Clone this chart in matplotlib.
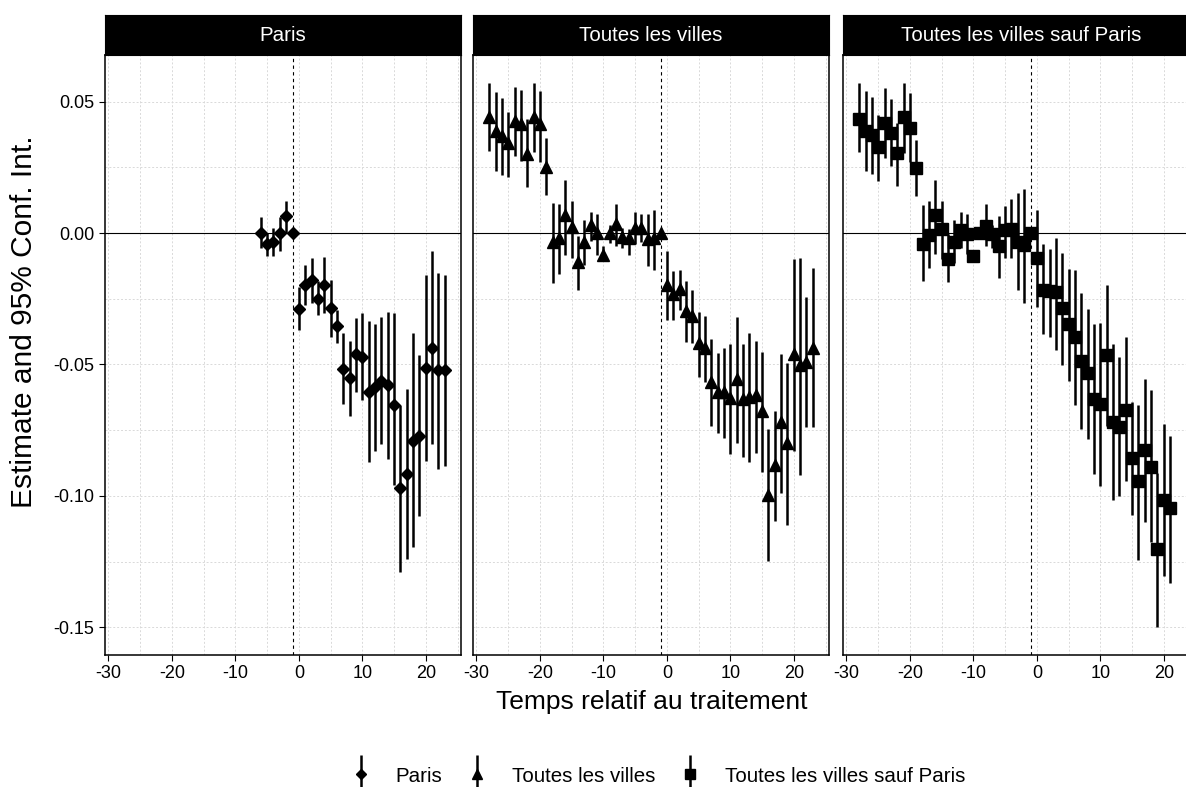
import matplotlib
matplotlib.use("Agg")
import matplotlib.pyplot as plt
from matplotlib.ticker import MultipleLocator
from matplotlib.container import ErrorbarContainer
from matplotlib.legend_handler import HandlerErrorbar
from matplotlib.lines import Line2D

plt.rcParams['font.family'] = ['Liberation Sans', 'DejaVu Sans']

# Paris
t_paris = list(range(-6, 24))
est_paris = [0.000, -0.0043, -0.0034, 0.000, 0.0065, 0.000, -0.0289, -0.0197, -0.0178, -0.025,
             -0.0197, -0.0286, -0.0354, -0.0516, -0.0552, -0.0462, -0.0471, -0.0605, -0.0586, -0.0564,
             -0.0577, -0.0654, -0.0969, -0.0918, -0.079, -0.0771, -0.0513, -0.0436, -0.0522, -0.052]
hi_paris = [0.0059, 0.000, 0.002, 0.006, 0.0123, 0.0, -0.0207, -0.012, -0.0095, -0.0184,
            -0.0092, -0.0177, -0.0291, -0.0382, -0.0411, -0.0322, -0.0305, -0.0335, -0.0347, -0.0318,
            -0.0301, -0.0304, -0.0656, -0.0593, -0.0382, -0.0465, -0.0158, -0.0069, -0.0152, -0.0158]
lo_paris = [-0.0056, -0.0088, -0.0088, -0.0069, 0.0001, 0.0, -0.0368, -0.0273, -0.0267, -0.0312,
            -0.0305, -0.0395, -0.042, -0.065, -0.0695, -0.0605, -0.0637, -0.0871, -0.0829, -0.0803,
            -0.0858, -0.0957, -0.1289, -0.1238, -0.1193, -0.1075, -0.0868, -0.0803, -0.0897, -0.0886]

# Toutes les villes
t_all = list(range(-28, 24))
est_all = [0.0442, 0.0387, 0.0369, 0.0344, 0.0427, 0.0413, 0.0302, 0.044, 0.0413, 0.025,
           -0.0034, -0.002, 0.0069, 0.0021, -0.011, -0.0033, 0.0031, 0.0001, -0.0082, 0.000,
           0.0033, -0.0015, -0.002, 0.002, 0.002, -0.0021, -0.002, 0.0,
           -0.0197, -0.0232, -0.0212, -0.0296, -0.0315, -0.042, -0.0437, -0.0567, -0.0605, -0.0605,
           -0.0628, -0.0554, -0.0631, -0.0624, -0.0618, -0.0676, -0.0995, -0.0884, -0.072, -0.0797,
           -0.0459, -0.0503, -0.049, -0.0437]
hi_all = [0.0572, 0.0538, 0.0512, 0.0461, 0.0555, 0.0542, 0.0432, 0.057, 0.0541, 0.0363,
          0.0114, 0.011, 0.0203, 0.0123, -0.0011, 0.005, 0.0078, 0.0074, -0.005, 0.003,
          0.011, 0.002, 0.0014, 0.0078, 0.0074, 0.0072, 0.0087, 0.0,
          -0.0069, -0.0146, -0.014, -0.0184, -0.0216, -0.0299, -0.0315, -0.0404, -0.0455, -0.0439,
          -0.0423, -0.0318, -0.0423, -0.0382, -0.0411, -0.0452, -0.0747, -0.0676, -0.0462, -0.0493,
          -0.0097, -0.0094, -0.0245, -0.0135]
lo_all = [0.031, 0.0234, 0.0221, 0.0212, 0.0291, 0.0273, 0.0174, 0.0308, 0.027, 0.0146,
          -0.019, -0.0156, -0.0082, -0.0094, -0.0216, -0.0123, -0.0031, -0.0084, -0.0107, -0.0037,
          -0.005, -0.0056, -0.0082, -0.0043, -0.0035, -0.0126, -0.0139, 0.0,
          -0.0331, -0.0331, -0.0293, -0.0416, -0.042, -0.0548, -0.0567, -0.0733, -0.0761, -0.0778,
          -0.0842, -0.0797, -0.0851, -0.0871, -0.0835, -0.0909, -0.1247, -0.1097, -0.0989, -0.111,
          -0.0829, -0.0922, -0.0739, -0.0739]

# Toutes les villes sauf Paris
t_sp = list(range(-28, 22))
est_sp = [0.0435, 0.0387, 0.0372, 0.0327, 0.0419, 0.0382, 0.0304, 0.044, 0.0401, 0.0246,
          -0.004, -0.0009, 0.0068, 0.0014, -0.0097, -0.0033, 0.001, -0.0005, -0.0088, 0.0,
          0.0026, -0.0005, -0.005, 0.001, 0.0014, -0.0033, -0.0046, 0.0,
          -0.0094, -0.0216, -0.0222, -0.0225, -0.0284, -0.0347, -0.0395, -0.0488, -0.0531, -0.0633,
          -0.065, -0.0465, -0.0718, -0.0736, -0.0672, -0.0854, -0.0944, -0.0825, -0.0889, -0.1203,
          -0.1014, -0.1046]
hi_sp = [0.057, 0.0541, 0.0518, 0.0448, 0.055, 0.0508, 0.0419, 0.0572, 0.0534, 0.0355,
         0.0106, 0.0123, 0.0203, 0.0123, -0.0005, 0.0051, 0.0078, 0.0074, -0.0063, 0.0022,
         0.011, 0.003, 0.0065, 0.0103, 0.0129, 0.0154, 0.0168, 0.0,
         0.0087, -0.0043, -0.0059, -0.0018, -0.0075, -0.0137, -0.0139, -0.0229, -0.0289, -0.0346,
         -0.0344, -0.0199, -0.0424, -0.0471, -0.0395, -0.0641, -0.0653, -0.0554, -0.0599, -0.0912,
         -0.0726, -0.0771]
lo_sp = [0.0308, 0.0234, 0.0225, 0.0199, 0.0287, 0.0253, 0.018, 0.0304, 0.027, 0.0142,
         -0.0184, -0.0135, -0.0079, -0.0097, -0.0187, -0.0114, -0.0056, -0.0079, -0.0105, -0.0024,
         -0.005, -0.0056, -0.0171, -0.0094, -0.0094, -0.0216, -0.0268, 0.0,
         -0.028, -0.0386, -0.0395, -0.0446, -0.0503, -0.0564, -0.0654, -0.0746, -0.0782, -0.0918,
         -0.0961, -0.0733, -0.1014, -0.1001, -0.0944, -0.1071, -0.1244, -0.1101, -0.1174, -0.1499,
         -0.1305, -0.1331]

titles = ['Paris', 'Toutes les villes', 'Toutes les villes sauf Paris']
series = [(t_paris, est_paris, lo_paris, hi_paris, 'D', 6.4),
          (t_all, est_all, lo_all, hi_all, '^', 9),
          (t_sp, est_sp, lo_sp, hi_sp, 's', 8.3)]

W, H = 1186, 787
fig = plt.figure(figsize=(W / 100, H / 100), dpi=100)

lefts = [105, 473, 843]
pw = 356
top, bottom, strip_h = 55, 655, 40

handles = []
for i in range(3):
    x0 = lefts[i] / W
    ax = fig.add_axes([x0, (H - bottom) / H, pw / W, (bottom - top) / H])
    sax = fig.add_axes([x0, (H - top) / H, pw / W, strip_h / H])
    sax.set_facecolor('black')
    sax.set_xticks([])
    sax.set_yticks([])
    for s in sax.spines.values():
        s.set_color('black')
    sax.text(0.5, 0.48, titles[i], color='white', fontsize=14.8, ha='center', va='center',
             transform=sax.transAxes)

    t, est, lo, hi, mk, ms = series[i]
    yerr = [[e - l for e, l in zip(est, lo)], [h - e for e, h in zip(est, hi)]]
    eb = ax.errorbar(t, est, yerr=yerr, fmt=mk, color='black', ms=ms, elinewidth=1.8,
                     capsize=0, zorder=3, label=titles[i])
    handles.append(eb)

    ax.axhline(0, color='black', lw=0.8, zorder=2)
    ax.axvline(-1, color='black', lw=0.8, ls=(0, (3, 3)), zorder=2)

    ax.set_xlim(-30.55, 25.55)
    ax.set_ylim(-0.1605, 0.0677)
    ax.xaxis.set_major_locator(MultipleLocator(10))
    ax.xaxis.set_minor_locator(MultipleLocator(5))
    ax.set_yticks([0.05, 0.0, -0.05, -0.10, -0.15])
    ax.yaxis.set_minor_locator(MultipleLocator(0.025))
    ax.grid(True, which='both', color='#d9d9d9', lw=0.7, ls=(0, (2, 2)))
    ax.set_axisbelow(True)
    ax.tick_params(which='major', direction='out', length=4, width=0.8, labelsize=13,
                   colors='black')
    ax.tick_params(which='minor', length=0)
    for s in ax.spines.values():
        s.set_color('black')
        s.set_linewidth(1.1)
    if i == 0:
        ax.set_yticklabels(['0.05', '0.00', '-0.05', '-0.10', '-0.15'])
    else:
        ax.tick_params(axis='y', which='both', left=False, labelleft=False)
    ax.set_xticklabels([str(int(v)) for v in ax.get_xticks()])

fig.text(24 / W, 1 - 322 / H, 'Estimate and 95% Conf. Int.', fontsize=21.5,
         rotation=90, ha='center', va='center')
fig.text(652 / W, 1 - 702 / H, 'Temps relatif au traitement', fontsize=19,
         ha='center', va='center')

leg = fig.legend(handles, titles, loc='center', bbox_to_anchor=(657 / W, 1 - 776 / H), ncol=3,
                 frameon=False, fontsize=14.8, handlelength=1.2, columnspacing=1.1,
                 handletextpad=1.1, handler_map={ErrorbarContainer: HandlerErrorbar(yerr_size=0.95)})
for ln in leg.findobj(Line2D):
    if ln.get_marker() not in (None, 'None', ''):
        ln.set_markersize(ln.get_markersize() * 0.85)

fig.savefig('out.png', dpi=100)
